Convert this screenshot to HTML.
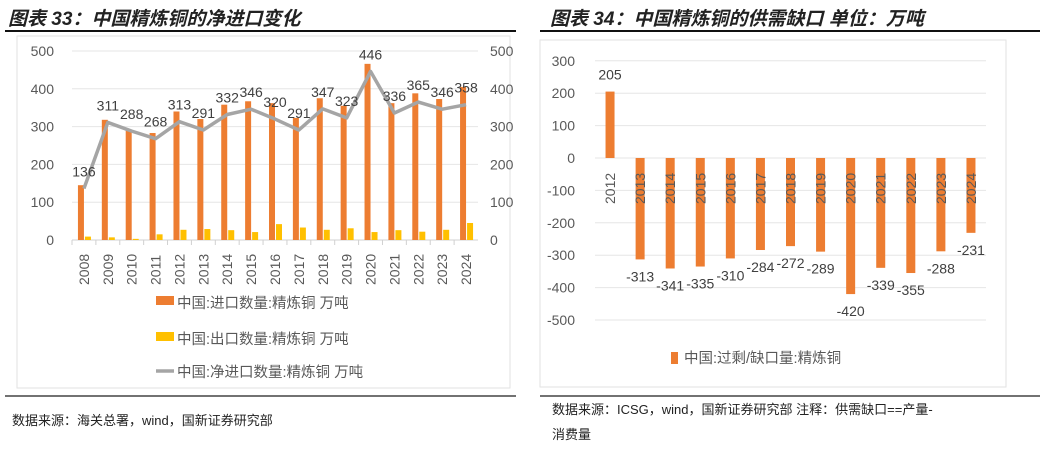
<!DOCTYPE html>
<html><head><meta charset="utf-8">
<style>
body{margin:0;background:#fff;width:1046px;height:446px;overflow:hidden;font-family:"Liberation Sans","Noto Sans CJK SC",sans-serif;}
svg text{font-family:"Liberation Sans","Noto Sans CJK SC",sans-serif;}
</style></head><body>
<svg id="s" width="1046" height="446" viewBox="0 0 1046 446" xmlns="http://www.w3.org/2000/svg">
<text x="8" y="25" font-size="19" font-style="italic" font-weight="bold" fill="#222">图表 33：中国精炼铜的净进口变化</text>
<text x="550" y="25" font-size="19" font-style="italic" font-weight="bold" fill="#222">图表 34：中国精炼铜的供需缺口  单位：万吨</text>
<line x1="5" y1="31" x2="516" y2="31" stroke="#111" stroke-width="2"/>
<line x1="540" y1="31" x2="1040" y2="31" stroke="#111" stroke-width="2"/>
<rect x="17" y="36" width="493" height="352" fill="none" stroke="#e2e2e2"/>
<rect x="540" y="40" width="466" height="347" fill="none" stroke="#e2e2e2"/>
<line x1="5" y1="396" x2="516" y2="396" stroke="#444" stroke-width="1.5"/>
<line x1="540" y1="396" x2="1040" y2="396" stroke="#444" stroke-width="1.5"/>
<text x="12" y="425" font-size="13" fill="#222">数据来源：海关总署，wind，国新证券研究部</text>
<text x="552" y="414" font-size="13" fill="#222">数据来源：ICSG，wind，国新证券研究部  注释：供需缺口==产量-</text>
<text x="552" y="439" font-size="13" fill="#222">消费量</text>
<g id="c1"></g><g id="c2"></g>
</svg>
<script>
const years1=["2008","2009","2010","2011","2012","2013","2014","2015","2016","2017","2018","2019","2020","2021","2022","2023","2024"];
const imports=[145,318,290,283,340,320,358,367,362,323,375,355,466,362,388,373,405];
const exportsV=[9,7,3,15,27,29,26,21,42,33,27,31,21,26,22,27,45];
const netImports=[136,311,288,268,313,291,332,346,320,291,347,323,446,336,365,346,358];
const ticks1=[0,100,200,300,400,500];
const years2=["2012","2013","2014","2015","2016","2017","2018","2019","2020","2021","2022","2023","2024"];
const gap=[205,-313,-341,-335,-310,-284,-272,-289,-420,-339,-355,-288,-231];
const ticks2=[300,200,100,0,-100,-200,-300,-400,-500];
const NS="http://www.w3.org/2000/svg";
function mk(p,t,a,txt){const e=document.createElementNS(NS,t);for(const k in a)e.setAttribute(k,a[k]);if(txt!==undefined)e.textContent=txt;p.appendChild(e);return e;}
// chart 1
const c1=document.getElementById('c1');
const x0=72,x1=478,yb=240,yt=51;
const y1=v=>yb-(v/500)*(yb-yt);
const bw=(x1-x0)/years1.length;
ticks1.forEach(t=>{
 let g=mk(c1,'line',{x1:x0,x2:x1,y1:y1(t),y2:y1(t),stroke:t==0?'#d0d0d0':'#e6e6e6'});
 
 let a=mk(c1,'text',{x:54,y:y1(t)+5,'font-size':14,fill:'#595959','text-anchor':'end'},t);
 
 let b=mk(c1,'text',{x:490,y:y1(t)+5,'font-size':14,fill:'#595959'},t);
 
});
years1.forEach((yr,i)=>{
 const cx=x0+bw*(i+0.5);
 let r=mk(c1,'rect',{x:cx-6,y:y1(imports[i]),width:6,height:yb-y1(imports[i]),fill:'#ED7D31'});
 
 let r2=mk(c1,'rect',{x:cx+1,y:y1(exportsV[i]),width:6,height:yb-y1(exportsV[i]),fill:'#FFC000'});
 
 let t=mk(c1,'text',{transform:`translate(${cx+5},${285}) rotate(-90)`,'font-size':14,fill:'#595959'},yr);
 
 let tk=mk(c1,'line',{x1:x0+bw*i,x2:x0+bw*i,y1:yb,y2:yb+5,stroke:'#d0d0d0'});
 
});
const pts=netImports.map((v,i)=>`${x0+bw*(i+0.5)},${y1(v)}`).join(' ');
let pl=mk(c1,'polyline',{points:pts,fill:'none',stroke:'#A5A5A5','stroke-width':3.5,'stroke-linejoin':'round'});

netImports.forEach((v,i)=>{
 let t=mk(c1,'text',{x:x0+bw*(i+0.5),y:y1(v)-12,'font-size':14,fill:'#404040','text-anchor':'middle'},v);
 
});
const leg=[['rect','#ED7D31','中国:进口数量:精炼铜 万吨',302],['rect','#FFC000','中国:出口数量:精炼铜 万吨',338],['line','#A5A5A5','中国:净进口数量:精炼铜 万吨',371]];
leg.forEach(l=>{
 let m=l[0]=='rect'?mk(c1,'rect',{x:156,y:l[3]-6,width:18,height:9,fill:l[1]}):mk(c1,'line',{x1:156,x2:174,y1:l[3],y2:l[3],stroke:l[1],'stroke-width':3.5});
 
 let t=mk(c1,'text',{x:177,y:l[3]+6,'font-size':14.5,fill:'#595959'},l[2]);
 
});
// chart 2
const c2=document.getElementById('c2');
const X0=595,X1=986,Z=158,PER=32.4;
const y2=v=>Z-v/100*PER;
const bw2=(X1-X0)/years2.length;
ticks2.forEach(t=>{
 let g=mk(c2,'line',{x1:X0,x2:X1,y1:y2(t),y2:y2(t),stroke:'#e6e6e6'});
 
 let a=mk(c2,'text',{x:575,y:y2(t)+5,'font-size':14,fill:'#595959','text-anchor':'end'},t);
 
});
years2.forEach((yr,i)=>{
 const cx=X0+bw2*(i+0.5),v=gap[i];
 let r=mk(c2,'rect',{x:cx-4.5,y:Math.min(y2(v),Z),width:9,height:Math.abs(y2(v)-Z),fill:'#ED7D31'});
 
 let t=mk(c2,'text',{transform:`translate(${cx+5},${204}) rotate(-90)`,'font-size':14,fill:'#595959'},yr);
 
 let ly=v>=0?y2(v)-12:y2(v)+22;
 let lb=mk(c2,'text',{x:cx,y:ly,'font-size':14,fill:'#404040','text-anchor':'middle'},v);
 
});
let ls=mk(c2,'rect',{x:671,y:352,width:7,height:12,fill:'#ED7D31'});

let lt=mk(c2,'text',{x:684,y:363,'font-size':14.5,fill:'#595959'},'中国:过剩/缺口量:精炼铜');

</script>
</body></html>
